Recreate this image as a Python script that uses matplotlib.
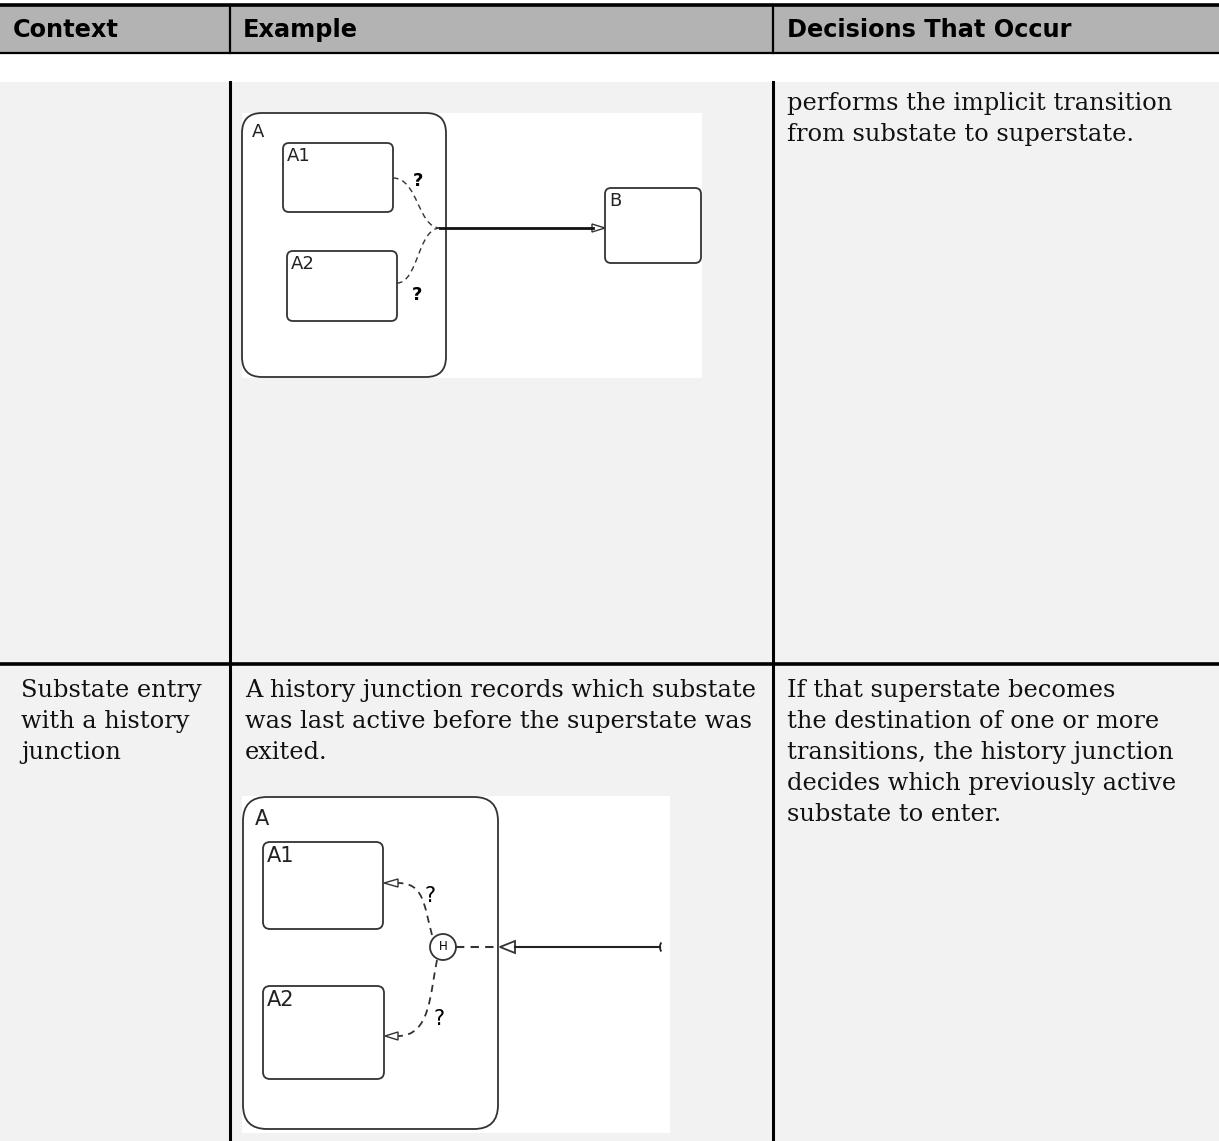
import matplotlib.pyplot as plt
from matplotlib.patches import FancyBboxPatch, Rectangle, Polygon, Circle, PathPatch, Arc
from matplotlib.path import Path

# table text
headers = ['Context', 'Example', 'Decisions That Occur']
row1_col3 = ['performs the implicit transition', 'from substate to superstate.']
row2_col1 = ['Substate entry', 'with a history', 'junction']
row2_col2 = ['A history junction records which substate',
             'was last active before the superstate was', 'exited.']
row2_col3 = ['If that superstate becomes', 'the destination of one or more',
             'transitions, the history junction', 'decides which previously active',
             'substate to enter.']

# states: name, x0, y0, x1, y1, corner radius (pixel space of the page)
states1 = [('A', 242, 113, 446, 377, 20), ('A1', 283, 143, 393, 212, 6),
           ('A2', 287, 251, 397, 321, 6), ('B', 605, 188, 701, 263, 6)]
states2 = [('A', 243, 797, 498, 1129, 24), ('A1', 263, 842, 383, 929, 7),
           ('A2', 263, 986, 384, 1079, 7)]

col_x = [0, 230, 773, 1219]
line_col = '#333333'

fig = plt.figure(figsize=(12.19, 11.41), dpi=100)
ax = fig.add_axes([0, 0, 1, 1])
ax.set_xlim(0, 1219)
ax.set_ylim(1141, 0)
ax.axis('off')

# header band
ax.add_patch(Rectangle((0, 5), 1219, 48, fc='#b3b3b3', ec='none'))
ax.plot([0, 1219], [5, 5], color='black', lw=2.6)
ax.plot([0, 1219], [53, 53], color='black', lw=1.6)
for x in col_x[1:3]:
    ax.plot([x, x], [5, 53], color='black', lw=1.6)
for x, h in zip([13, 243, 787], headers):
    ax.text(x, 30, h, fontsize=17.3, fontweight='bold', family='DejaVu Sans',
            va='center', ha='left')

# body
ax.add_patch(Rectangle((0, 82), 1219, 1141 - 82, fc='#f2f2f2', ec='none'))
for x in col_x[1:3]:
    ax.plot([x, x], [82, 1141], color='black', lw=2.2)
ax.plot([0, 1219], [664, 664], color='black', lw=2.6)

serif = dict(fontsize=17.4, family='DejaVu Serif', va='baseline', ha='left', color='#111111')
for i, s in enumerate(row1_col3):
    ax.text(787, 110 + 31 * i, s, **serif)
for i, s in enumerate(row2_col1):
    ax.text(21, 697 + 31 * i, s, **serif)
for i, s in enumerate(row2_col2):
    ax.text(245, 697 + 31 * i, s, **serif)
for i, s in enumerate(row2_col3):
    ax.text(787, 697 + 31 * i, s, **serif)


def draw_states(states, fs):
    for name, x0, y0, x1, y1, r in states:
        ax.add_patch(FancyBboxPatch((x0, y0), x1 - x0, y1 - y0,
                                    boxstyle=f'round,pad=0,rounding_size={r}',
                                    fc='white', ec=line_col, lw=1.3))
        inset = max(4, 0.5 * r)
        ax.text(x0 + inset, y0 + inset, name, fontsize=fs, family='DejaVu Sans',
                va='top', ha='left', color='#222222')


def dashed_curve(pts, lw=1.0):
    codes = [Path.MOVETO, Path.CURVE4, Path.CURVE4, Path.CURVE4]
    ax.add_patch(PathPatch(Path(pts, codes), fc='none', ec=line_col, lw=lw,
                           linestyle=(0, (4, 3))))


def open_arrow(tip, base_x, half, lw=1.0):
    tx, ty = tip
    ax.add_patch(Polygon([(tx, ty), (base_x, ty - half), (base_x, ty + half)],
                         closed=True, fc='white', ec=line_col, lw=lw))


# diagram 1
ax.add_patch(Rectangle((242, 113), 460, 265, fc='white', ec='none'))
draw_states(states1, 13)
dashed_curve([(393, 178), (418, 178), (418, 228), (440, 228)])
dashed_curve([(397, 283), (418, 283), (418, 228), (440, 228)])
ax.plot([440, 593], [228, 228], color='#111111', lw=2.0)
open_arrow((605, 228), 592, 4)
ax.text(418, 181, '?', fontsize=13, fontweight='bold', family='DejaVu Sans',
        va='center', ha='center')
ax.text(417, 295, '?', fontsize=13, fontweight='bold', family='DejaVu Sans',
        va='center', ha='center')

# diagram 2
ax.add_patch(Rectangle((242, 796), 428, 337, fc='white', ec='none'))
draw_states(states2, 15)
ax.add_patch(Circle((443, 947), 13, fc='white', ec=line_col, lw=1.3))
ax.text(443, 947, 'H', fontsize=8.5, family='DejaVu Sans', va='center', ha='center')
dashed_curve([(432, 935), (424, 905), (424, 883), (398, 883)], lw=1.3)
dashed_curve([(437, 960), (430, 995), (430, 1036), (398, 1036)], lw=1.3)
open_arrow((384, 883), 398, 4)
open_arrow((385, 1036), 398, 4)
ax.plot([456, 500], [947, 947], color=line_col, lw=1.5, linestyle=(0, (4, 3)))
open_arrow((500, 947), 515, 6, lw=1.3)
ax.plot([515, 660], [947, 947], color='#222222', lw=1.5)
ax.add_patch(Arc((664, 947), 8, 12, theta1=120, theta2=240, color='#222222', lw=1.3))
ax.text(430, 896, '?', fontsize=15, family='DejaVu Sans', va='center', ha='center')
ax.text(439, 1019, '?', fontsize=15, family='DejaVu Sans', va='center', ha='center')

fig.savefig('out.png', dpi=100)
